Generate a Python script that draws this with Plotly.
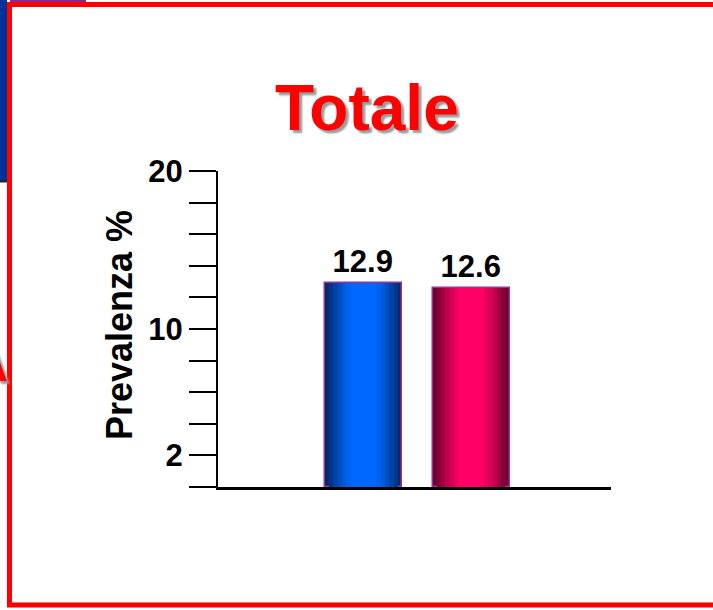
import plotly.graph_objects as go

# Prevalence data
categories = ["Maschi", "Femmine"]
values = [12.9, 12.6]
value_labels = ["12.9", "12.6"]
y_tick_vals = [0, 2, 4, 6, 8, 10, 12, 14, 16, 18, 20]
y_tick_text = ["", "2", "", "", "", "10", "", "", "", "", "20"]

W, H = 713, 610
ML, MR, MT, MB = 218, 102, 171, 123
PW, PH = W - ML - MR, H - MT - MB


def px(x):
    return (x - ML) / PW


def py(y):
    return (H - MB - y) / PH


FONT = "Liberation Sans, Arial, sans-serif"

# shading layers (outer -> inner) give each bar a cylindrical look
blue_shades = ["#002a6e", "#00358a", "#0042a8", "#004fc4", "#005ad9", "#0062ee", "#0068ff"]
pink_shades = ["#6e0030", "#880038", "#a30042", "#bf004d", "#d80056", "#ec005e", "#ff0066"]
widths = [0.716, 0.64, 0.56, 0.48, 0.40, 0.32, 0.24]

fig = go.Figure()
for i, (wd, cb, cp) in enumerate(zip(widths, blue_shades, pink_shades)):
    outer = i == 0
    fig.add_trace(go.Bar(
        x=categories,
        y=values,
        width=wd,
        marker=dict(
            color=[cb, cp],
            line=dict(color="#993399", width=1.5 if outer else 0),
        ),
        text=value_labels if outer else None,
        textposition="outside" if outer else "none",
        textfont=dict(family=FONT, size=31, color="black", weight="bold"),
        cliponaxis=False,
        hoverinfo="skip",
        showlegend=False,
    ))

fig.update_layout(
    width=W, height=H,
    margin=dict(l=ML, r=MR, t=MT, b=MB, pad=0),
    paper_bgcolor="white", plot_bgcolor="white",
    barmode="overlay",
    bargap=0,
    xaxis=dict(
        type="category",
        range=[-1.353, 2.302],
        showticklabels=False,
        ticks="",
        showgrid=False,
        zeroline=False,
        showline=True, linecolor="black", linewidth=3,
        fixedrange=True,
    ),
    yaxis=dict(
        range=[0, 20],
        tickvals=y_tick_vals,
        ticktext=y_tick_text,
        ticks="outside", ticklen=27, tickwidth=2, tickcolor="black",
        tickfont=dict(family=FONT, size=31, color="black", weight="bold"),
        showgrid=False,
        zeroline=False,
        showline=True, linecolor="black", linewidth=2,
        fixedrange=True,
    ),
    shapes=[
        # dark blue strip at far left
        dict(type="rect", xref="paper", yref="paper",
             x0=px(-5), x1=px(7), y0=py(-5), y1=py(181),
             fillcolor="#003399", line=dict(width=0), layer="below"),
        dict(type="line", xref="paper", yref="paper",
             x0=px(-5), x1=px(7), y0=py(181.5), y1=py(181.5),
             line=dict(color="#222", width=2)),
        # purple sliver at the top
        dict(type="rect", xref="paper", yref="paper",
             x0=px(10), x1=px(86), y0=py(-5), y1=py(2.5),
             fillcolor="#8a2a8a", line=dict(width=0)),
        # red frame
        dict(type="rect", xref="paper", yref="paper",
             x0=px(9.5), x1=px(730), y0=py(4.5), y1=py(605),
             line=dict(color="#ff0000", width=5), fillcolor="rgba(0,0,0,0)"),
    ],
    annotations=[
        dict(text="<b>Totale</b>", xref="paper", yref="paper",
             x=px(367), y=py(108), xanchor="center", yanchor="middle",
             showarrow=False,
             font=dict(family=FONT, size=64, color="#ff0000",
                       shadow="3px 3px 2px #9a9a9a")),
        dict(text="<b>Prevalenza %</b>", xref="paper", yref="paper",
             x=px(119), y=py(325), xanchor="center", yanchor="middle",
             textangle=-90, showarrow=False,
             font=dict(family=FONT, size=36, color="black")),
        dict(text="<b>A</b>", xref="paper", yref="paper",
             x=px(10), y=py(396), xanchor="right", yanchor="bottom",
             showarrow=False,
             font=dict(family=FONT, size=60, color="#ff0000",
                       shadow="3px 3px 2px #9a9a9a")),
    ],
)

fig.write_html("out.html")
